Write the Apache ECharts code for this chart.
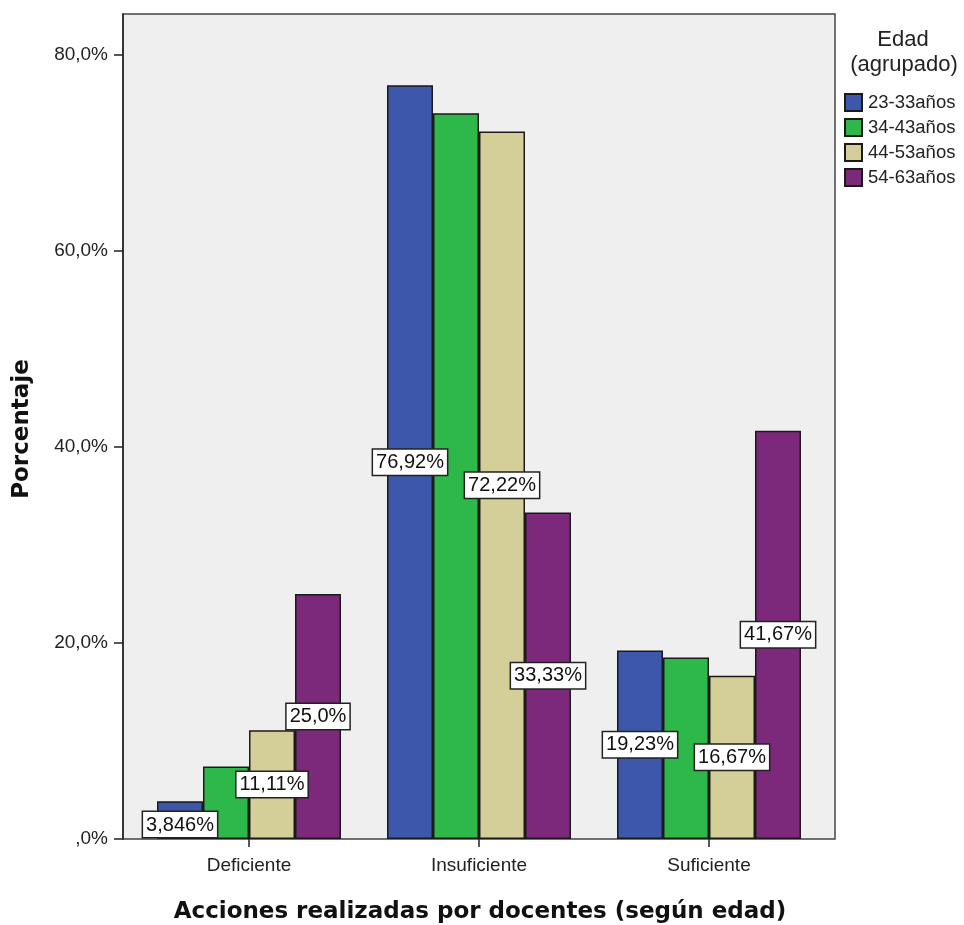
<!DOCTYPE html>
<html>
<head>
<meta charset="utf-8">
<script src="https://cdn.jsdelivr.net/npm/echarts@6/dist/echarts.min.js"></script>
<style>
html,body{margin:0;padding:0;background:#fff;}
#chart{width:964px;height:925px;}
</style>
</head>
<body>
<div id="chart"></div>
<script>
var categories = ['Deficiente', 'Insuficiente', 'Suficiente'];
var seriesNames = ['23-33años', '34-43años', '44-53años', '54-63años'];
var values23 = [3.846, 76.92, 19.23];
var values34 = [7.41, 74.07, 18.52];
var values44 = [11.11, 72.22, 16.67];
var values54 = [25.0, 33.33, 41.67];
var labels23 = ['3,846%', '76,92%', '19,23%'];
var labels34 = null;
var labels44 = ['11,11%', '72,22%', '16,67%'];
var labels54 = ['25,0%', '33,33%', '41,67%'];
var yTicks = [0, 20, 40, 60, 80];
var yTickLabels = [',0%', '20,0%', '40,0%', '60,0%', '80,0%'];
var yMax = 84.2;

var colors = ['#3d58ab', '#2eb84a', '#d4cf98', '#7c287b'];
var allValues = [values23, values34, values44, values54];
var allLabels = [labels23, labels34, labels44, labels54];
var FONT = 'Liberation Sans, Arial, sans-serif';

var chart = echarts.init(document.getElementById('chart'));

var series = seriesNames.map(function (name, si) {
  var labs = allLabels[si];
  return {
    name: name,
    type: 'bar',
    xAxisIndex: 1,
    yAxisIndex: 1,
    barWidth: 46,
    barGap: '0%',
    itemStyle: { color: colors[si], borderColor: '#1a1a1a', borderWidth: 1.5 },
    emphasis: { disabled: true },
    z: 2,
    data: allValues[si].map(function (v, i) {
      var item = { value: v };
      if (labs) {
        item.label = {
          show: true,
          formatter: labs[i],
          position: v < 6 ? 'insideBottom' : 'inside',
          distance: 2
        };
      }
      return item;
    }),
    label: {
      show: false,
      color: '#111',
      fontFamily: FONT,
      fontSize: 20,
      backgroundColor: '#fff',
      borderColor: '#222',
      borderWidth: 1.5,
      padding: [3, 3, 2, 3]
    },
    labelLayout: { hideOverlap: false }
  };
});

var option = {
  animation: false,
  backgroundColor: '#fff',
  grid: [
    { left: 123, top: 14, width: 712, height: 825, show: true, backgroundColor: '#efefef', borderColor: '#444', borderWidth: 1.5 },
    { left: 134, top: 14, width: 690, height: 825 }
  ],
  xAxis: [
    { type: 'value', gridIndex: 0, show: false, min: 0, max: 1 },
    {
      type: 'category', gridIndex: 1, data: categories,
      axisLine: { show: false },
      axisTick: { show: true, alignWithLabel: true, length: 8, lineStyle: { color: '#222', width: 1.5 } },
      axisLabel: { margin: 17, color: '#222', fontSize: 19, fontFamily: FONT }
    }
  ],
  yAxis: [
    {
      type: 'value', gridIndex: 0, min: 0, max: yMax, interval: 20,
      splitLine: { show: false },
      axisLine: { show: true, lineStyle: { color: '#222', width: 1.5 } },
      axisTick: { show: true, length: 9, customValues: yTicks, lineStyle: { color: '#222', width: 1.5 } },
      axisLabel: {
        margin: 15, color: '#222', fontSize: 19, fontFamily: FONT,
        customValues: yTicks,
        formatter: function (v) { var k = yTicks.indexOf(v); return k >= 0 ? yTickLabels[k] : ''; }
      }
    },
    { type: 'value', gridIndex: 1, min: 0, max: yMax, show: false }
  ],
  legend: {
    orient: 'vertical',
    left: 844, top: 93,
    padding: 0,
    itemWidth: 17, itemHeight: 17, itemGap: 6,
    icon: 'rect',
    textStyle: { fontSize: 18.5, color: '#222', fontFamily: FONT, padding: [0, 0, 0, 1] },
    data: seriesNames,
    selectedMode: false
  },
  graphic: [
    { type: 'text', silent: true, z: 10, x: 903, y: 40,
      style: { text: 'Edad', font: '22px Liberation Sans, Arial, sans-serif', fill: '#222', textAlign: 'center', textVerticalAlign: 'middle' } },
    { type: 'text', silent: true, z: 10, x: 904, y: 65,
      style: { text: '(agrupado)', font: '22px Liberation Sans, Arial, sans-serif', fill: '#222', textAlign: 'center', textVerticalAlign: 'middle' } },
    { type: 'text', silent: true, z: 10, x: 480, y: 912,
      style: { text: 'Acciones realizadas por docentes (según edad)', font: 'bold 23px DejaVu Sans, sans-serif', fill: '#111', textAlign: 'center', textVerticalAlign: 'middle' } },
    { type: 'text', silent: true, z: 10, x: 22, y: 429, rotation: Math.PI / 2,
      style: { text: 'Porcentaje', font: 'bold 23px DejaVu Sans, sans-serif', fill: '#111', textAlign: 'center', textVerticalAlign: 'middle' } }
  ],
  series: series
};
chart.setOption(option);
</script>
</body>
</html>
